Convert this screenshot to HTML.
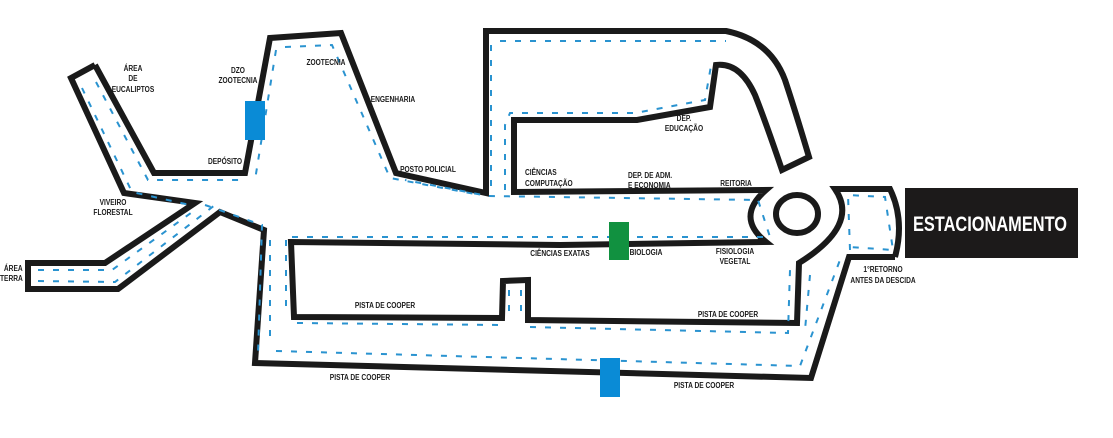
<!DOCTYPE html>
<html><head><meta charset="utf-8"><style>
html,body{margin:0;padding:0;background:#fff;}
svg{display:block}
text{font-family:"Liberation Sans",sans-serif;font-weight:bold;font-size:8.5px;fill:#1a1a1a;}
</style></head><body>
<svg width="1113" height="438" viewBox="0 0 1113 438" xmlns="http://www.w3.org/2000/svg">
<g fill="none" stroke="#1a1a1a" stroke-width="6" stroke-linejoin="miter">
<polyline points="95,65 71,78 124,193 195,203 105,263 28,263 28,289 118,289 220,212 264,230 255,363 811,378 849,257 895,257"/>
<path d="M895,257 Q905,220 890,189 L835,189 Q860,225 799,263 L797,323 L528,320 L528,280 L503,281 L502,318 L294,317 L291,242 L560,245 L766,242 Q735,217 766,190 L514,192 L514,120 L637,120 L710,107 L716,65 Q740,62 755,95 Q765,120 782,170 L809,157 Q795,110 785,80 Q770,40 726,31 L486,31 L486,193 L396,173 L341,33 L270,38 L245,173 L154,173 L95,65"/>
<ellipse cx="797" cy="214" rx="21" ry="19"/>
</g>
<g fill="none" stroke="#2a93d0" stroke-width="2" stroke-dasharray="6 9">
<polyline points="82,88 132,192 190,205"/>
<polyline points="96,82 148,180 240,180"/>
<polyline points="38,270 112,270 195,210"/>
<polyline points="38,281 115,282 215,205"/>
<polyline points="205,205 262,225 258,355"/>
<polyline points="276,50 255,180"/>
<polyline points="285,47 332,45 390,178 480,195"/>
<polyline points="270,240 270,345"/>
<polyline points="286,240 286,315"/>
<polyline points="292,237 770,237 758,200 488,196 405,180"/>
<polyline points="297,323 500,325"/>
<polyline points="509,290 509,318"/>
<polyline points="521,290 521,318"/>
<polyline points="530,327 788,333 790,270"/>
<polyline points="276,351 800,366 840,260"/>
<polyline points="810,275 805,330"/>
<polyline points="850,250 848,195 885,197 893,250 850,247"/>
<polyline points="491,45 491,190"/>
<polyline points="505,190 505,125 510,113 635,113 705,100 712,60 Q735,62 750,95 L772,160 790,160"/>
<polyline points="500,41 726,41 Q760,50 775,80 L797,158"/>
</g>
<rect x="245" y="101" width="20" height="39" fill="#0a8bd6"/>
<rect x="609" y="222" width="20" height="38" fill="#119140"/>
<rect x="600" y="358" width="20" height="39" fill="#0a8bd6"/>
<rect x="905" y="188" width="173" height="70" fill="#1c1a1a"/>
<text x="990" y="231" text-anchor="middle" style="font-size:21px;fill:#fff" transform="translate(990 0) scale(0.78 1) translate(-990 0)">ESTACIONAMENTO</text>
<g text-anchor="middle" transform="scale(0.78 1)">
<text x="170.5" y="71">ÁREA</text><text x="170.5" y="81">DE</text><text x="170.5" y="92">EUCALIPTOS</text>
<text x="305.1" y="73">DZO</text><text x="305.1" y="83">ZOOTECNIA</text>
<text x="417.9" y="65">ZOOTECNIA</text>
<text x="503.8" y="102">ENGENHARIA</text>
<text x="288.5" y="164">DEPÓSITO</text>
<text x="548.7" y="172">POSTO POLICIAL</text>
<text x="144.9" y="205">VIVEIRO</text><text x="144.9" y="215">FLORESTAL</text>
<text x="876.9" y="121">DEP.</text><text x="876.9" y="131">EDUCAÇÃO</text>
<text x="943.6" y="186">REITORIA</text>
<text x="717.9" y="256">CIÊNCIAS EXATAS</text>
<text x="828.2" y="255">BIOLOGIA</text>
<text x="942.3" y="254">FISIOLOGIA</text><text x="942.3" y="264">VEGETAL</text>
<text x="1132.1" y="272">1°RETORNO</text><text x="1132.1" y="283">ANTES DA DESCIDA</text>
<text x="493.6" y="308">PISTA DE COOPER</text>
<text x="933.3" y="317">PISTA DE COOPER</text>
<text x="461.5" y="380">PISTA DE COOPER</text>
<text x="902.6" y="388">PISTA DE COOPER</text>
</g>
<g transform="scale(0.78 1)">
<text x="5" y="271">ÁREA</text><text x="0" y="281">TERRA</text>
<text x="673.1" y="175">CIÊNCIAS</text><text x="673.1" y="186">COMPUTAÇÃO</text>
<text x="805.1" y="178">DEP. DE ADM.</text><text x="805.1" y="188">E ECONOMIA</text>
</g>
</svg>
</body></html>
